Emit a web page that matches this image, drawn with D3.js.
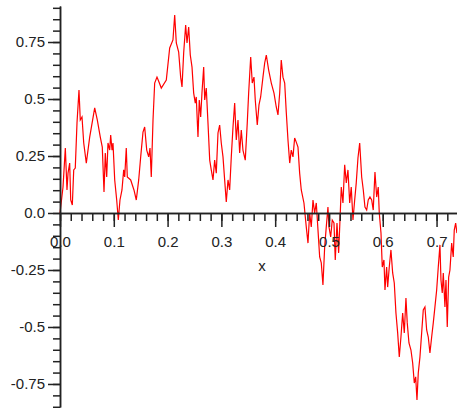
<!DOCTYPE html>
<meta charset="utf-8">
<script src="https://d3js.org/d3.v7.min.js"></script>
<body style="margin:0;background:#fff">
<div id="my_dataviz"></div>
<script>
    // curve values
    var xs = [0.000, 0.0056, 0.0099, 0.0130, 0.0149, 0.0180, 0.0199, 0.0229, 0.0255, 0.0284,
        0.0316, 0.0353, 0.0377, 0.0409, 0.0441, 0.0489, 0.0552, 0.0645, 0.0693, 0.0749,
        0.0786, 0.0818, 0.0842, 0.0868, 0.0892, 0.0924, 0.0942, 0.0967, 0.0985, 0.1017,
        0.1054, 0.1084, 0.1115, 0.1152, 0.1184, 0.1203, 0.1232, 0.1251, 0.1314, 0.1375,
        0.1418, 0.1463, 0.1500, 0.1543, 0.1574, 0.1612, 0.1649, 0.1673, 0.1697, 0.1729,
        0.1760, 0.1803, 0.1840, 0.1883, 0.1976, 0.2039, 0.2100, 0.2132, 0.2162, 0.2206,
        0.2243, 0.2268, 0.2299, 0.2336, 0.2361, 0.2392, 0.2422, 0.2454, 0.2485, 0.2515,
        0.2533, 0.2565, 0.2589, 0.2615, 0.2639, 0.2671, 0.2690, 0.2719, 0.2751, 0.2783,
        0.2812, 0.2844, 0.2875, 0.2905, 0.2937, 0.2968, 0.2998, 0.3030, 0.3061, 0.3091,
        0.3123, 0.3154, 0.3184, 0.3216, 0.3247, 0.3277, 0.3309, 0.3340, 0.3370, 0.3401,
        0.3444, 0.3481, 0.3507, 0.3545, 0.3574, 0.3606, 0.3630, 0.3667, 0.3699, 0.3730,
        0.3773, 0.3805, 0.3835, 0.3879, 0.3928, 0.3978, 0.4020, 0.4052, 0.4084, 0.4113,
        0.4145, 0.4177, 0.4206, 0.4238, 0.4270, 0.4299, 0.4331, 0.4362, 0.4392, 0.4424,
        0.4455, 0.4485, 0.4535, 0.4578, 0.4610, 0.4641, 0.4671, 0.4703, 0.4734, 0.4764,
        0.4796, 0.4827, 0.4857, 0.4888, 0.4920, 0.4950, 0.4981, 0.5000, 0.5032, 0.5061,
        0.5093, 0.5117, 0.5149, 0.5180, 0.5210, 0.5229, 0.5260, 0.5292, 0.5322, 0.5353,
        0.5385, 0.5414, 0.5446, 0.5478, 0.5507, 0.5539, 0.5571, 0.5608, 0.5638, 0.5669,
        0.5701, 0.5730, 0.5762, 0.5794, 0.5823, 0.5855, 0.5887, 0.5916, 0.5935, 0.5967,
        0.5991, 0.6022, 0.6041, 0.6072, 0.6091, 0.6121, 0.6152, 0.6184, 0.6214, 0.6245,
        0.6277, 0.6307, 0.6338, 0.6370, 0.6400, 0.6431, 0.6455, 0.6487, 0.6524, 0.6556,
        0.6586, 0.6612, 0.6636, 0.6660, 0.6691, 0.6723, 0.6753, 0.6784, 0.6816, 0.6846,
        0.6877, 0.6909, 0.6939, 0.6970, 0.7002, 0.7032, 0.7063, 0.7082, 0.7106, 0.7125,
        0.7156, 0.7175, 0.7199, 0.7225, 0.7249, 0.7281, 0.7310, 0.7329, 0.7355, 0.7379];

    var ys = [0.000, 0.114, 0.285, 0.101, 0.175, 0.219, 0.057, 0.035, 0.189, 0.197,
        0.395, 0.539, 0.408, 0.421, 0.307, 0.219, 0.333, 0.461, 0.408, 0.333,
        0.289, 0.092, 0.263, 0.158, 0.307, 0.276, 0.342, 0.276, 0.307, 0.145,
        0.057, -0.031, 0.057, 0.101, 0.189, 0.158, 0.285, 0.158, 0.145, 0.101,
        0.057, 0.145, 0.246, 0.355, 0.377, 0.276, 0.246, 0.285, 0.158, 0.408,
        0.570, 0.596, 0.575, 0.548, 0.583, 0.724, 0.759, 0.868, 0.746, 0.706,
        0.596, 0.553, 0.702, 0.825, 0.746, 0.816, 0.693, 0.640, 0.526, 0.482,
        0.509, 0.333, 0.496, 0.421, 0.526, 0.640, 0.496, 0.548, 0.395, 0.232,
        0.189, 0.145, 0.232, 0.175, 0.351, 0.386, 0.307, 0.246, 0.145, 0.048,
        0.145, 0.101, 0.246, 0.377, 0.482, 0.320, 0.408, 0.263, 0.364, 0.276,
        0.232, 0.395, 0.526, 0.684, 0.570, 0.596, 0.496, 0.386, 0.474, 0.509,
        0.596, 0.658, 0.693, 0.627, 0.570, 0.526, 0.465, 0.430, 0.526, 0.671,
        0.596, 0.570, 0.443, 0.320, 0.219, 0.276, 0.246, 0.329, 0.311, 0.289,
        0.175, 0.101, 0.044, -0.061, -0.132, 0.000, -0.061, 0.057, 0.000, 0.044,
        -0.075, -0.193, -0.219, -0.316, -0.149, -0.061, 0.026, -0.061, -0.105, -0.031,
        -0.044, -0.206, -0.044, -0.175, 0.000, 0.114, 0.044, 0.211, 0.132, 0.189,
        0.044, 0.114, -0.031, 0.057, 0.132, 0.241, 0.307, 0.158, 0.101, 0.026,
        0.013, 0.057, 0.070, 0.057, 0.013, 0.180, 0.070, 0.114, 0.000, -0.088,
        -0.237, -0.206, -0.338, -0.237, -0.325, -0.237, -0.162, -0.263, -0.307, -0.439,
        -0.526, -0.632, -0.544, -0.439, -0.526, -0.373, -0.482, -0.570, -0.601, -0.658,
        -0.746, -0.719, -0.820, -0.702, -0.632, -0.526, -0.425, -0.412, -0.513, -0.544,
        -0.614, -0.544, -0.482, -0.412, -0.338, -0.237, -0.140, -0.294, -0.351, -0.263,
        -0.412, -0.294, -0.500, -0.281, -0.250, -0.132, -0.193, -0.075, -0.044, -0.088];

    // tick values and labels
    var xMajor = [0.0, 0.1, 0.2, 0.3, 0.4, 0.5, 0.6, 0.7];
    var xLabels = ["0.0", "0.1", "0.2", "0.3", "0.4", "0.5", "0.6", "0.7"];
    var yMajor = [-0.75, -0.5, -0.25, 0.0, 0.25, 0.5, 0.75];
    var yLabels = ["-0.75", "-0.5", "-0.25", "0.0", "0.25", "0.5", "0.75"];

    var width = 457, height = 410;

    var svg = d3.select("#my_dataviz")
        .append("svg")
        .attr("width", width)
        .attr("height", height)
        .style("display", "block");

    var x = d3.scaleLinear().domain([0, 0.738]).range([60, 457]);
    var y = d3.scaleLinear().domain([-0.851, 0.908]).range([407, 6]);

    // minor ticks every 0.02 on x, every 0.05 on y
    var xMinor = d3.range(0, 37).map(function(i) { return i * 0.02; });
    var yMinor = d3.range(-17, 19).map(function(i) { return i * 0.05; });

    var font = "'Liberation Sans', Arial, Helvetica, sans-serif";
    var axisColor = "#222";

    // the curve
    var data = xs.map(function(d, i) { return {x: d, y: ys[i]}; });
    svg.append("path")
        .datum(data)
        .attr("fill", "none")
        .attr("stroke", "#ff0000")
        .attr("stroke-width", 1.2)
        .attr("stroke-linejoin", "miter")
        .attr("d", d3.line()
            .x(function(d) { return x(d.x); })
            .y(function(d) { return y(d.y); }));

    // x axis
    var gx = svg.append("g").attr("transform", "translate(0," + y(0) + ")");
    gx.append("g")
        .call(d3.axisBottom(x).tickValues(xMinor).tickSize(8).tickSizeOuter(0).tickFormat(""));
    gx.append("g")
        .call(d3.axisBottom(x).tickValues(xMajor).tickSize(14).tickSizeOuter(0).tickPadding(9)
            .tickFormat(function(d, i) { return xLabels[i]; }));

    // y axis
    var gy = svg.append("g").attr("transform", "translate(" + x(0) + ",0)");
    gy.append("g")
        .call(d3.axisLeft(y).tickValues(yMinor).tickSize(7).tickSizeOuter(0).tickFormat(""));
    gy.append("g")
        .call(d3.axisLeft(y).tickValues(yMajor).tickSize(12).tickSizeOuter(0).tickPadding(3)
            .tickFormat(function(d, i) { return yLabels[i]; }));

    svg.selectAll(".domain, .tick line")
        .attr("stroke", axisColor)
        .attr("stroke-width", 1.5);
    svg.selectAll(".tick text")
        .attr("fill", axisColor)
        .style("font-family", font)
        .style("font-size", "15px");

    // axis title
    svg.append("text")
        .attr("x", 262)
        .attr("y", 271)
        .attr("text-anchor", "middle")
        .attr("fill", axisColor)
        .style("font-family", font)
        .style("font-size", "15px")
        .text("x");
</script>
</body>
